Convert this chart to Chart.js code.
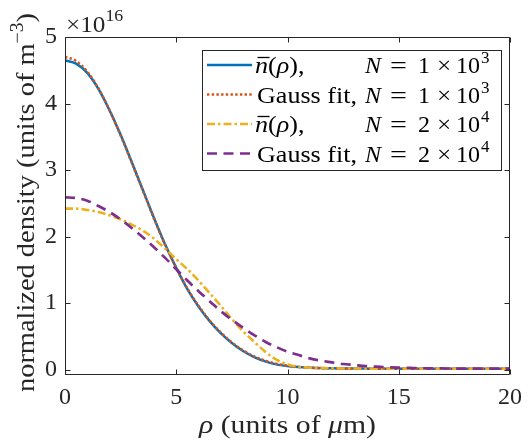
<!DOCTYPE html>
<html><head><meta charset="utf-8">
<script src="https://cdn.jsdelivr.net/npm/chart.js@4.4.1/dist/chart.umd.min.js"></script>
<style>html,body{margin:0;padding:0;background:#fff;overflow:hidden}
#probe{position:absolute;left:-1000px;top:0;font-family:'Liberation Serif';font-size:24px}
#probe i{font-style:italic}</style>
</head><body>
<div id="probe">Gauss fit <i>ρ μ N n</i> 0123456789 ×−</div>
<canvas id="c" width="530" height="444"></canvas>
<script>
// ---- data ----
const rho = [0,0.5,1,1.5,2,2.5,3,3.5,4,4.5,5,5.5,6,6.5,7,7.5,8,8.5,9,9.5,10,10.5,11,11.5,12,12.5,13,13.5,14,14.5,15,15.5,16,16.5,17,17.5,18,18.5,19,19.5,20];
const nbarN1e3 = [4.65,4.60,4.46,4.22,3.90,3.53,3.12,2.70,2.28,1.88,1.53,1.21,0.95,0.73,0.55,0.40,0.28,0.19,0.125,0.08,0.055,0.04,0.03,0.025,0.02,0.018,0.017,0.016,0.015,0.015,0.015,0.015,0.015,0.015,0.015,0.015,0.015,0.015,0.015,0.015,0.015];
const gaussN1e3 = [4.70,4.64,4.48,4.23,3.90,3.52,3.11,2.69,2.27,1.88,1.53,1.22,0.96,0.74,0.56,0.41,0.29,0.20,0.135,0.09,0.06,0.04,0.03,0.022,0.018,0.016,0.015,0.015,0.015,0.015,0.015,0.015,0.015,0.015,0.015,0.015,0.015,0.015,0.015,0.015,0.015];
const nbarN2e4 = [2.42,2.42,2.40,2.37,2.32,2.26,2.18,2.09,1.97,1.82,1.66,1.51,1.34,1.15,0.96,0.76,0.58,0.42,0.27,0.15,0.08,0.045,0.03,0.025,0.02,0.018,0.017,0.016,0.015,0.015,0.015,0.015,0.015,0.015,0.015,0.015,0.015,0.015,0.015,0.015,0.015];
const gaussN2e4 = [2.59,2.58,2.54,2.46,2.37,2.26,2.13,1.99,1.84,1.68,1.51,1.34,1.18,1.03,0.88,0.75,0.63,0.52,0.42,0.34,0.27,0.22,0.17,0.135,0.11,0.085,0.07,0.055,0.045,0.037,0.03,0.026,0.022,0.02,0.018,0.017,0.016,0.015,0.015,0.015,0.015];
const xTicks = [0,5,10,15,20];
const yTicks = [0,1,2,3,4,5];
const yExponent = '16';
const legendFirst = ['nbar','Gauss fit,','nbar','Gauss fit,'];
const legendMant = ['1','1','2','2'];
const legendExp = ['3','3','4','4'];

// ---- styles ----
const SERIF = "'Liberation Serif'";
const AXIS = '#262626';
const styles = [
  {color:'#0072BD', width:2.5, dash:[]},
  {color:'#D95319', width:2.5, dash:[2.4,2.3]},
  {color:'#EDB120', width:2.6, dash:[8,3,2.5,3]},
  {color:'#7E2F8E', width:2.7, dash:[10,6.5]}
];
const seriesData = [nbarN1e3, gaussN1e3, nbarN2e4, gaussN2e4];

const datasets = seriesData.map((arr,i)=>({
  data: rho.map((r,k)=>({x:r, y:arr[k]})),
  borderColor: styles[i].color,
  borderWidth: styles[i].width,
  borderDash: styles[i].dash,
  pointRadius: 0,
  fill: false,
  cubicInterpolationMode: 'monotone',
  order: 4 - i
}));

function segFont(s){ return (s.it?'italic ':'') + (s.size||24) + 'px ' + SERIF; }
function richWidth(ctx, segs){ let w=0; for(const s of segs){ ctx.font=segFont(s); w+=ctx.measureText(s.t).width; } return w; }
function drawRich(ctx, segs, x, y, sx){
  let cx = x;
  for(const s of segs){
    ctx.font = segFont(s);
    const w = ctx.measureText(s.t).width;
    ctx.save(); ctx.translate(cx, y + (s.dy||0)); ctx.scale(sx,1);
    ctx.fillText(s.t, 0, 0);
    ctx.restore();
    if (s.bar){
      ctx.save(); ctx.strokeStyle = ctx.fillStyle; ctx.lineWidth = 1.3;
      ctx.beginPath(); ctx.moveTo(cx + 2.5, y - 15.5); ctx.lineTo(cx + w*sx + 1.5, y - 15.5); ctx.stroke(); ctx.restore();
    }
    cx += w*sx;
  }
  return cx;
}

const framePlugin = {
  id:'frame',
  afterDraw(chart){
    const ctx = chart.ctx, a = chart.chartArea;
    const xs = chart.scales.x, ys = chart.scales.y;
    ctx.save();
    ctx.strokeStyle = AXIS; ctx.lineWidth = 1;
    const L = Math.round(a.left)+0.5, R = Math.round(a.right)-0.5, T = Math.round(a.top)+0.5, B = Math.round(a.bottom)-0.5;
    ctx.beginPath(); ctx.rect(L, T, R-L, B-T); ctx.stroke();
    ctx.beginPath();
    for(const v of xTicks){ const p = Math.round(xs.getPixelForValue(v))+0.5; ctx.moveTo(p,B); ctx.lineTo(p,B-5); ctx.moveTo(p,T); ctx.lineTo(p,T+5); }
    for(const v of yTicks){ const p = Math.round(ys.getPixelForValue(v))+0.5; ctx.moveTo(L,p); ctx.lineTo(L+5,p); ctx.moveTo(R,p); ctx.lineTo(R-5,p); }
    ctx.stroke();

    ctx.fillStyle = AXIS; ctx.textAlign = 'left'; ctx.textBaseline = 'alphabetic';
    drawRich(ctx, [{t:'×10', size:24},{t:yExponent, size:17, dy:-11}], a.left+1, a.top-5, 1.05);

    const xSegs = [{t:'ρ', it:true, size:26},{t:' (units of ', size:26},{t:'μ', it:true, size:26},{t:'m)', size:26}];
    const xw = richWidth(ctx, xSegs), xsx = 177/xw;
    drawRich(ctx, xSegs, (a.left+a.right)/2 - 177/2, 433, xsx);

    const ySegs = [{t:'normalized density (units of m', size:26},{t:'−3', size:18, dy:-11},{t:')', size:26}];
    const yw = richWidth(ctx, ySegs), ysx = 379/yw;
    ctx.save(); ctx.translate(34, 202.5); ctx.rotate(-Math.PI/2);
    drawRich(ctx, ySegs, -379/2, 0, ysx);
    ctx.restore();

    const lx = a.right - 9, lw = 299, lh = 120, ltop = a.top + 13, lleft = lx - lw;
    ctx.fillStyle = '#fff'; ctx.fillRect(lleft, ltop, lw, lh);
    ctx.strokeStyle = AXIS; ctx.lineWidth = 1;
    ctx.strokeRect(Math.round(lleft)+0.5, Math.round(ltop)+0.5, lw, lh);
    ctx.font = '24px ' + SERIF;
    const gsx = 100 / ctx.measureText('Gauss fit,').width;
    for(let i=0;i<4;i++){
      const cy = ltop + 15 + i*29.5;
      const st = styles[i];
      ctx.save(); ctx.strokeStyle = st.color; ctx.lineWidth = st.width; ctx.setLineDash(st.dash);
      ctx.beginPath(); ctx.moveTo(lleft+5, cy); ctx.lineTo(lleft+50, cy); ctx.stroke(); ctx.restore();
      ctx.fillStyle = '#000';
      const base = cy + 8;
      const tx = lleft + 53;
      if (legendFirst[i] === 'nbar'){
        drawRich(ctx, [{t:'n', it:true, bar:true},{t:'('},{t:'ρ', it:true},{t:'),'}], tx, base, gsx);
      } else {
        drawRich(ctx, [{t:legendFirst[i]}], tx + 2, base, gsx);
      }
      const nx = lleft + 163;
      drawRich(ctx, [{t:'N', it:true}], nx, base, 1);
      drawRich(ctx, [{t:'='}], nx + 25, base, 1.25);
      drawRich(ctx, [{t:legendMant[i]}], nx + 53, base, 1);
      drawRich(ctx, [{t:'×'}], nx + 72, base, 1.05);
      drawRich(ctx, [{t:'10'}], nx + 91, base, 1);
      drawRich(ctx, [{t:legendExp[i], size:17}], nx + 116, base - 10, 1);
    }
    ctx.restore();
  }
};

function build(){
  new Chart(document.getElementById('c'), {
    type:'line',
    data:{datasets},
    options:{
      responsive:false, animation:false, devicePixelRatio:1,
      layout:{padding:{top:37, right:14, left:0, bottom:0}},
      plugins:{legend:{display:false}, tooltip:{enabled:false}},
      scales:{
        x:{type:'linear', min:0, max:20,
          afterBuildTicks:s=>{ s.ticks = xTicks.map(v=>({value:v})); },
          afterFit:s=>{ s.height = 69; },
          grid:{display:false, drawTicks:false}, border:{display:false},
          ticks:{font:{family:SERIF, size:24}, color:AXIS, padding:8, maxRotation:0, autoSkip:false}},
        y:{type:'linear', min:-0.08, max:5,
          afterBuildTicks:s=>{ s.ticks = yTicks.map(v=>({value:v})); },
          afterFit:s=>{ s.width = 65; },
          grid:{display:false, drawTicks:false}, border:{display:false},
          ticks:{font:{family:SERIF, size:24}, color:AXIS, padding:8, autoSkip:false}}
      }
    },
    plugins:[framePlugin]
  });
}
Promise.all([
  document.fonts.load("24px 'Liberation Serif'"),
  document.fonts.load("italic 24px 'Liberation Serif'")
]).then(build, build);
</script>
</body></html>
